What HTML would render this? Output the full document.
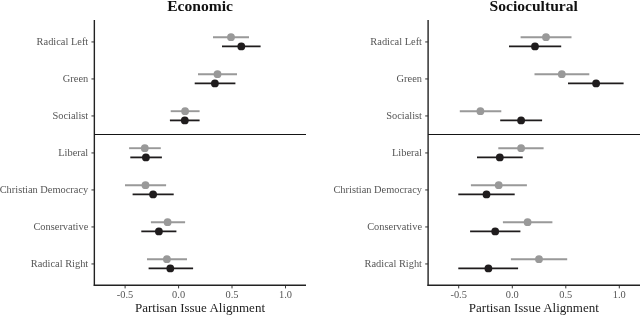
<!DOCTYPE html>
<html><head><meta charset="utf-8"><title>Partisan Issue Alignment</title>
<style>
html,body{margin:0;padding:0;background:#fff;}
body{width:640px;height:315px;overflow:hidden;}
svg{display:block;font-family:"Liberation Serif",serif;}
</style></head><body>
<svg width="640" height="315" viewBox="0 0 640 315">
<rect width="640" height="315" fill="#fff"/>
<line x1="94.35" y1="20" x2="94.35" y2="285.9" stroke="#222222" stroke-width="1.4"/>
<line x1="93.75" y1="285.2" x2="306" y2="285.2" stroke="#222222" stroke-width="1.4"/>
<line x1="94.35" y1="134.4" x2="306" y2="134.4" stroke="#151515" stroke-width="1.05"/>
<line x1="91.44999999999999" y1="41.949999999999996" x2="94.35" y2="41.949999999999996" stroke="#333" stroke-width="1.0"/>
<text x="88.25" y="45.3" text-anchor="end" font-size="10.4" fill="#565656">Radical Left</text>
<line x1="91.44999999999999" y1="78.95" x2="94.35" y2="78.95" stroke="#333" stroke-width="1.0"/>
<text x="88.25" y="82.3" text-anchor="end" font-size="10.4" fill="#565656">Green</text>
<line x1="91.44999999999999" y1="115.95" x2="94.35" y2="115.95" stroke="#333" stroke-width="1.0"/>
<text x="88.25" y="119.3" text-anchor="end" font-size="10.4" fill="#565656">Socialist</text>
<line x1="91.44999999999999" y1="152.95000000000002" x2="94.35" y2="152.95000000000002" stroke="#333" stroke-width="1.0"/>
<text x="88.25" y="156.3" text-anchor="end" font-size="10.4" fill="#565656">Liberal</text>
<line x1="91.44999999999999" y1="189.95000000000002" x2="94.35" y2="189.95000000000002" stroke="#333" stroke-width="1.0"/>
<text x="88.25" y="193.3" text-anchor="end" font-size="10.4" fill="#565656">Christian Democracy</text>
<line x1="91.44999999999999" y1="226.95000000000002" x2="94.35" y2="226.95000000000002" stroke="#333" stroke-width="1.0"/>
<text x="88.25" y="230.3" text-anchor="end" font-size="10.4" fill="#565656">Conservative</text>
<line x1="91.44999999999999" y1="263.95" x2="94.35" y2="263.95" stroke="#333" stroke-width="1.0"/>
<text x="88.25" y="267.3" text-anchor="end" font-size="10.4" fill="#565656">Radical Right</text>
<line x1="125.1" y1="285.6" x2="125.1" y2="288.4" stroke="#222222" stroke-width="0.9"/>
<text x="125.1" y="297.8" text-anchor="middle" font-size="10.4" fill="#565656">-0.5</text>
<line x1="178.6" y1="285.6" x2="178.6" y2="288.4" stroke="#222222" stroke-width="0.9"/>
<text x="178.6" y="297.8" text-anchor="middle" font-size="10.4" fill="#565656">0.0</text>
<line x1="232.0" y1="285.6" x2="232.0" y2="288.4" stroke="#222222" stroke-width="0.9"/>
<text x="232.0" y="297.8" text-anchor="middle" font-size="10.4" fill="#565656">0.5</text>
<line x1="285.5" y1="285.6" x2="285.5" y2="288.4" stroke="#222222" stroke-width="0.9"/>
<text x="285.5" y="297.8" text-anchor="middle" font-size="10.4" fill="#565656">1.0</text>
<text x="200.1" y="10.7" text-anchor="middle" font-size="15.6" font-weight="bold" fill="#111">Economic</text>
<text x="200.0" y="312" text-anchor="middle" font-size="13" fill="#222">Partisan Issue Alignment</text>
<line x1="213.0" y1="37.199999999999996" x2="249.0" y2="37.199999999999996" stroke="#999999" stroke-width="1.9"/>
<circle cx="231.0" cy="37.199999999999996" r="3.9" fill="#999999"/>
<line x1="222.0" y1="46.4" x2="260.6" y2="46.4" stroke="#1f1c1d" stroke-width="1.8"/>
<circle cx="241.3" cy="46.4" r="3.9" fill="#1f1c1d"/>
<line x1="198.0" y1="74.2" x2="237.0" y2="74.2" stroke="#999999" stroke-width="1.9"/>
<circle cx="217.5" cy="74.2" r="3.9" fill="#999999"/>
<line x1="194.7" y1="83.39999999999999" x2="235.4" y2="83.39999999999999" stroke="#1f1c1d" stroke-width="1.8"/>
<circle cx="214.9" cy="83.39999999999999" r="3.9" fill="#1f1c1d"/>
<line x1="170.7" y1="111.2" x2="199.6" y2="111.2" stroke="#999999" stroke-width="1.9"/>
<circle cx="185.1" cy="111.2" r="3.9" fill="#999999"/>
<line x1="169.9" y1="120.39999999999999" x2="199.6" y2="120.39999999999999" stroke="#1f1c1d" stroke-width="1.8"/>
<circle cx="184.8" cy="120.39999999999999" r="3.9" fill="#1f1c1d"/>
<line x1="129.1" y1="148.20000000000002" x2="160.8" y2="148.20000000000002" stroke="#999999" stroke-width="1.9"/>
<circle cx="144.8" cy="148.20000000000002" r="3.9" fill="#999999"/>
<line x1="130.3" y1="157.4" x2="161.9" y2="157.4" stroke="#1f1c1d" stroke-width="1.8"/>
<circle cx="145.9" cy="157.4" r="3.9" fill="#1f1c1d"/>
<line x1="125.0" y1="185.20000000000002" x2="166.1" y2="185.20000000000002" stroke="#999999" stroke-width="1.9"/>
<circle cx="145.5" cy="185.20000000000002" r="3.9" fill="#999999"/>
<line x1="132.6" y1="194.4" x2="173.7" y2="194.4" stroke="#1f1c1d" stroke-width="1.8"/>
<circle cx="153.1" cy="194.4" r="3.9" fill="#1f1c1d"/>
<line x1="150.9" y1="222.20000000000002" x2="185.1" y2="222.20000000000002" stroke="#999999" stroke-width="1.9"/>
<circle cx="167.6" cy="222.20000000000002" r="3.9" fill="#999999"/>
<line x1="141.3" y1="231.4" x2="176.4" y2="231.4" stroke="#1f1c1d" stroke-width="1.8"/>
<circle cx="158.9" cy="231.4" r="3.9" fill="#1f1c1d"/>
<line x1="147.0" y1="259.2" x2="187.0" y2="259.2" stroke="#999999" stroke-width="1.9"/>
<circle cx="166.9" cy="259.2" r="3.9" fill="#999999"/>
<line x1="148.6" y1="268.40000000000003" x2="193.1" y2="268.40000000000003" stroke="#1f1c1d" stroke-width="1.8"/>
<circle cx="170.3" cy="268.40000000000003" r="3.9" fill="#1f1c1d"/>
<line x1="428.1" y1="20" x2="428.1" y2="285.9" stroke="#222222" stroke-width="1.4"/>
<line x1="427.5" y1="285.2" x2="640" y2="285.2" stroke="#222222" stroke-width="1.4"/>
<line x1="428.1" y1="134.4" x2="640" y2="134.4" stroke="#151515" stroke-width="1.05"/>
<line x1="425.20000000000005" y1="41.949999999999996" x2="428.1" y2="41.949999999999996" stroke="#333" stroke-width="1.0"/>
<text x="422.0" y="45.3" text-anchor="end" font-size="10.4" fill="#565656">Radical Left</text>
<line x1="425.20000000000005" y1="78.95" x2="428.1" y2="78.95" stroke="#333" stroke-width="1.0"/>
<text x="422.0" y="82.3" text-anchor="end" font-size="10.4" fill="#565656">Green</text>
<line x1="425.20000000000005" y1="115.95" x2="428.1" y2="115.95" stroke="#333" stroke-width="1.0"/>
<text x="422.0" y="119.3" text-anchor="end" font-size="10.4" fill="#565656">Socialist</text>
<line x1="425.20000000000005" y1="152.95000000000002" x2="428.1" y2="152.95000000000002" stroke="#333" stroke-width="1.0"/>
<text x="422.0" y="156.3" text-anchor="end" font-size="10.4" fill="#565656">Liberal</text>
<line x1="425.20000000000005" y1="189.95000000000002" x2="428.1" y2="189.95000000000002" stroke="#333" stroke-width="1.0"/>
<text x="422.0" y="193.3" text-anchor="end" font-size="10.4" fill="#565656">Christian Democracy</text>
<line x1="425.20000000000005" y1="226.95000000000002" x2="428.1" y2="226.95000000000002" stroke="#333" stroke-width="1.0"/>
<text x="422.0" y="230.3" text-anchor="end" font-size="10.4" fill="#565656">Conservative</text>
<line x1="425.20000000000005" y1="263.95" x2="428.1" y2="263.95" stroke="#333" stroke-width="1.0"/>
<text x="422.0" y="267.3" text-anchor="end" font-size="10.4" fill="#565656">Radical Right</text>
<line x1="458.7" y1="285.6" x2="458.7" y2="288.4" stroke="#222222" stroke-width="0.9"/>
<text x="458.7" y="297.8" text-anchor="middle" font-size="10.4" fill="#565656">-0.5</text>
<line x1="512.3" y1="285.6" x2="512.3" y2="288.4" stroke="#222222" stroke-width="0.9"/>
<text x="512.3" y="297.8" text-anchor="middle" font-size="10.4" fill="#565656">0.0</text>
<line x1="565.8" y1="285.6" x2="565.8" y2="288.4" stroke="#222222" stroke-width="0.9"/>
<text x="565.8" y="297.8" text-anchor="middle" font-size="10.4" fill="#565656">0.5</text>
<line x1="619.3" y1="285.6" x2="619.3" y2="288.4" stroke="#222222" stroke-width="0.9"/>
<text x="619.3" y="297.8" text-anchor="middle" font-size="10.4" fill="#565656">1.0</text>
<text x="533.7" y="10.7" text-anchor="middle" font-size="15.6" font-weight="bold" fill="#111">Sociocultural</text>
<text x="533.8" y="312" text-anchor="middle" font-size="13" fill="#222">Partisan Issue Alignment</text>
<line x1="520.6" y1="37.199999999999996" x2="571.5" y2="37.199999999999996" stroke="#999999" stroke-width="1.9"/>
<circle cx="546.0" cy="37.199999999999996" r="3.9" fill="#999999"/>
<line x1="509.0" y1="46.4" x2="561.2" y2="46.4" stroke="#1f1c1d" stroke-width="1.8"/>
<circle cx="535.0" cy="46.4" r="3.9" fill="#1f1c1d"/>
<line x1="534.5" y1="74.2" x2="589.3" y2="74.2" stroke="#999999" stroke-width="1.9"/>
<circle cx="561.8" cy="74.2" r="3.9" fill="#999999"/>
<line x1="568.0" y1="83.39999999999999" x2="623.6" y2="83.39999999999999" stroke="#1f1c1d" stroke-width="1.8"/>
<circle cx="596.1" cy="83.39999999999999" r="3.9" fill="#1f1c1d"/>
<line x1="459.8" y1="111.2" x2="501.3" y2="111.2" stroke="#999999" stroke-width="1.9"/>
<circle cx="480.4" cy="111.2" r="3.9" fill="#999999"/>
<line x1="500.2" y1="120.39999999999999" x2="542.1" y2="120.39999999999999" stroke="#1f1c1d" stroke-width="1.8"/>
<circle cx="521.1" cy="120.39999999999999" r="3.9" fill="#1f1c1d"/>
<line x1="498.3" y1="148.20000000000002" x2="543.6" y2="148.20000000000002" stroke="#999999" stroke-width="1.9"/>
<circle cx="521.1" cy="148.20000000000002" r="3.9" fill="#999999"/>
<line x1="477.0" y1="157.4" x2="522.7" y2="157.4" stroke="#1f1c1d" stroke-width="1.8"/>
<circle cx="499.8" cy="157.4" r="3.9" fill="#1f1c1d"/>
<line x1="470.9" y1="185.20000000000002" x2="526.9" y2="185.20000000000002" stroke="#999999" stroke-width="1.9"/>
<circle cx="498.7" cy="185.20000000000002" r="3.9" fill="#999999"/>
<line x1="458.3" y1="194.4" x2="514.7" y2="194.4" stroke="#1f1c1d" stroke-width="1.8"/>
<circle cx="486.5" cy="194.4" r="3.9" fill="#1f1c1d"/>
<line x1="502.9" y1="222.20000000000002" x2="552.4" y2="222.20000000000002" stroke="#999999" stroke-width="1.9"/>
<circle cx="527.6" cy="222.20000000000002" r="3.9" fill="#999999"/>
<line x1="470.1" y1="231.4" x2="520.4" y2="231.4" stroke="#1f1c1d" stroke-width="1.8"/>
<circle cx="495.2" cy="231.4" r="3.9" fill="#1f1c1d"/>
<line x1="510.9" y1="259.2" x2="567.2" y2="259.2" stroke="#999999" stroke-width="1.9"/>
<circle cx="539.0" cy="259.2" r="3.9" fill="#999999"/>
<line x1="458.3" y1="268.40000000000003" x2="518.1" y2="268.40000000000003" stroke="#1f1c1d" stroke-width="1.8"/>
<circle cx="488.4" cy="268.40000000000003" r="3.9" fill="#1f1c1d"/>
</svg>
</body></html>
